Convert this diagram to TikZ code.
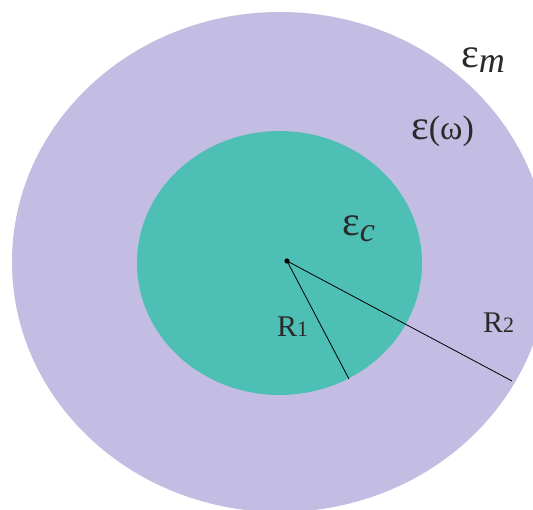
\documentclass[tikz,border=0pt]{standalone}
\usepackage{fontspec}
\setmainfont{Liberation Serif}
\definecolor{outerc}{HTML}{C4BDE3}
\definecolor{innerc}{HTML}{4EBFB4}
\definecolor{txt}{HTML}{2A2A2A}
\newcommand{\epsbig}{{\fontsize{42}{42}\selectfont ε}}
\tikzset{
  lbl/.style={inner sep=0pt, anchor=base west, text=txt, font=\fontsize{30}{30}\selectfont},
  radius line/.style={line width=0.8pt, black},
}
\begin{document}
\begin{tikzpicture}[x=1pt,y=-1pt]
\useasboundingbox (0,0) rectangle (533,510);
\fill[white] (0,0) rectangle (533,510);
\clip (0,0) rectangle (533,510);
\fill[outerc] (280,262) ellipse [x radius=268, y radius=250];
\fill[innerc] (279.5,263) ellipse [x radius=142.5, y radius=132];
\coordinate (O) at (287,261);
\coordinate (A) at (349,379);
\coordinate (B) at (512,381);
\draw[radius line] (O) -- (A);
\draw[radius line] (O) -- (B);
\fill[black] (O) circle (2.6);
\node[lbl] (r1) at (277,337) {R{\fontsize{22}{22}\selectfont 1}};
\node[lbl] (r2) at (483,333) {R{\fontsize{22}{22}\selectfont 2}};
\node[lbl] (em) at (461,68) {\epsbig\raisebox{-5pt}{\fontsize{36}{36}\selectfont\itshape m}};
\node[lbl, font=\fontsize{34}{34}\selectfont] (eo) at (411,140) {\epsbig(ω)};
\node[lbl] (ec) at (342,236) {\epsbig\raisebox{-6pt}{\fontsize{34}{34}\selectfont\itshape c}};
\end{tikzpicture}
\end{document}
